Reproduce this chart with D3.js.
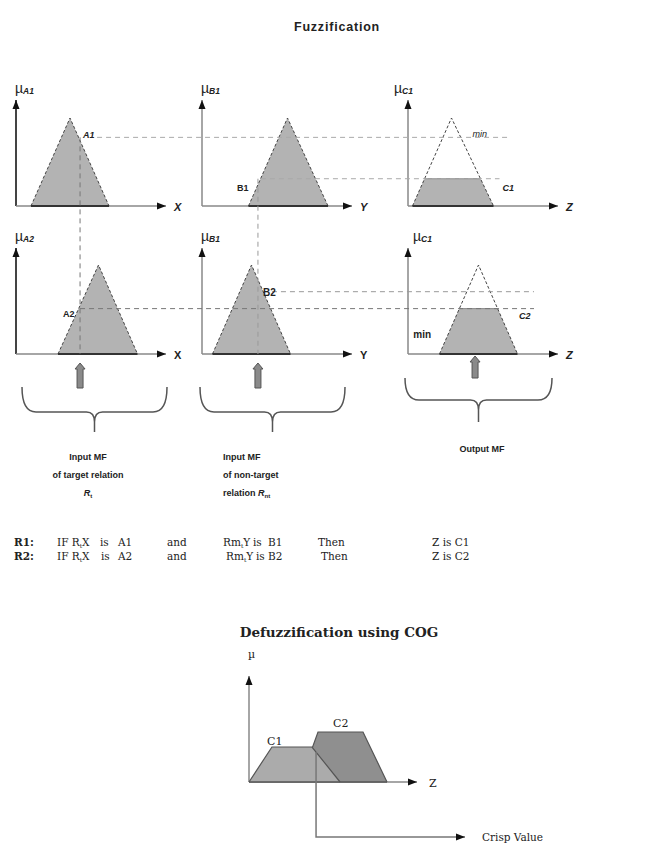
<!DOCTYPE html>
<html>
<head>
<meta charset="utf-8">
<script src="https://cdn.jsdelivr.net/npm/d3@7"></script>
<style>
  body { margin: 0; background: #fff; }
  text { font-family: "Liberation Sans", Arial, sans-serif; }
  .serif { font-family: "DejaVu Serif", "Liberation Serif", serif; }
</style>
</head>
<body>
<script>
// membership functions, triangle [a, peak, c] in axis units (0..10)
var mfA1 = [1.0, 3.6, 6.2];
var mfB1 = [3.1, 5.7, 8.4];
var mfC1 = [0.3, 2.9, 5.7];
var mfA2 = [2.8, 5.5, 8.1];
var mfB2 = [0.7, 3.3, 5.9];
var mfC2 = [2.1, 4.7, 7.3];

var muNames = [['A1', 'B1', 'C1'], ['A2', 'B1', 'C1']];
var axisNames = ['X', 'Y', 'Z'];

var crispX = 4.27;          // input on X
var crispY = 3.73;          // input on Y
var fireA = [0.78, 0.51];   // degree of A1, A2 at crispX
var fireB = [0.31, 0.70];   // degree of B1, B2 at crispY
var clipC = [0.31, 0.51];   // min() of each rule
var crispZ = 4.47;          // COG result

var cogC1 = [[0, 0], [1.53, 0.35], [4.2, 0.35], [6.07, 0]];
var cogC2 = [[3.4, 0], [4.6, 0.5], [7.6, 0.5], [9.2, 0]];

var rules = [
  ['R1', 'A1', 'B1', 'C1'],
  ['R2', 'A2', 'B2', 'C2']
];

var W = 665, H = 861;
var svg = d3.select('body').append('svg').attr('width', W).attr('height', H);

var defs = svg.append('defs');
defs.append('marker').attr('id', 'arr')
  .attr('markerUnits', 'userSpaceOnUse')
  .attr('markerWidth', 10).attr('markerHeight', 8)
  .attr('refX', 9).attr('refY', 4).attr('orient', 'auto')
  .append('path').attr('d', 'M0,0.5 L9,4 L0,7.5 Z').attr('fill', '#111');

// layout of the six small plots
var rows = [{base: 206, one: 118, top: 100}, {base: 354, one: 265, top: 248}];
var cols = [16, 202, 408];
var unit = 15;

function scalesFor(r, c) {
  var x = d3.scaleLinear().domain([0, 10]).range([cols[c], cols[c] + 10 * unit]);
  var y = d3.scaleLinear().domain([0, 1]).range([rows[r].base, rows[r].one]);
  return {x: x, y: y};
}

var line = function(s) {
  return d3.line().x(function(d) { return s.x(d[0]); }).y(function(d) { return s.y(d[1]); });
};

function tri(mf) { return [[mf[0], 0], [mf[1], 1], [mf[2], 0]]; }
function clipped(mf, h) {
  return [[mf[0], 0], [mf[0] + h * (mf[1] - mf[0]), h], [mf[2] - h * (mf[2] - mf[1]), h], [mf[2], 0]];
}

var mfs = [[mfA1, mfB1, mfC1], [mfA2, mfB2, mfC2]];
var S = [[], []];

rows.forEach(function(row, r) {
  cols.forEach(function(cx, c) {
    var s = scalesFor(r, c);
    S[r][c] = s;
    var g = svg.append('g');
    var axCol = c === 0 ? '#444' : '#888';
    var axW = c === 0 ? 2 : 1.5;
    // axes
    g.append('line').attr('x1', s.x(0)).attr('y1', row.base).attr('x2', s.x(0)).attr('y2', row.top)
      .attr('stroke', axCol).attr('stroke-width', axW).attr('marker-end', 'url(#arr)');
    g.append('line').attr('x1', s.x(0)).attr('y1', row.base).attr('x2', s.x(10)).attr('y2', row.base)
      .attr('stroke', '#888').attr('stroke-width', 1.5).attr('marker-end', 'url(#arr)');
    g.append('text').attr('x', s.x(10) + 8).attr('y', row.base + 5)
      .attr('font-size', 11).attr('font-style', (r === 0 || c === 2) ? 'italic' : 'normal')
      .attr('font-weight', 'bold').attr('fill', '#222').text(axisNames[c]);
    // mu label
    var mx = c === 2 ? (r === 0 ? s.x(0) - 14 : s.x(0) + 5) : s.x(0) - 1;
    var mt = g.append('text').attr('x', mx).attr('y', row.top - 7).attr('fill', '#222');
    mt.append('tspan').attr('font-size', 14).text('\u00b5');
    mt.append('tspan').attr('font-size', 8.5).attr('font-weight', 'bold').attr('font-style', 'italic')
      .attr('dy', 1).text(muNames[r][c]);

    var mf = mfs[r][c];
    if (c < 2) {
      g.append('path').attr('d', line(s)(tri(mf)))
        .attr('fill', '#b3b3b3').attr('stroke', '#444').attr('stroke-width', 1).attr('stroke-dasharray', '3,2');
    } else {
      g.append('path').attr('d', line(s)(clipped(mf, clipC[r])))
        .attr('fill', '#b3b3b3').attr('stroke', 'none');
      g.append('path').attr('d', line(s)(tri(mf)))
        .attr('fill', 'none').attr('stroke', '#444').attr('stroke-width', 1).attr('stroke-dasharray', '3,2');
      g.append('line').attr('x1', s.x(clipped(mf, clipC[r])[1][0])).attr('x2', s.x(clipped(mf, clipC[r])[2][0]))
        .attr('y1', s.y(clipC[r])).attr('y2', s.y(clipC[r])).attr('stroke', '#888').attr('stroke-width', 1);
    }
    g.append('line').attr('x1', s.x(mf[0])).attr('x2', s.x(mf[2]))
      .attr('y1', row.base).attr('y2', row.base).attr('stroke', '#333').attr('stroke-width', 2);
  });
});

// guide lines
var guides = svg.append('g').attr('fill', 'none');
function dashed(x1, y1, x2, y2, col) {
  guides.append('line').attr('x1', x1).attr('y1', y1).attr('x2', x2).attr('y2', y2)
    .attr('stroke', col).attr('stroke-width', 1).attr('stroke-dasharray', '5,4');
}
var xA = S[0][0].x(crispX), xB = S[0][1].x(crispY);
dashed(xA, S[0][0].y(fireA[0]), xA, rows[1].base, '#777');
dashed(xB, S[0][1].y(fireB[0]), xB, rows[1].base, '#999');
dashed(xA + 17, S[0][0].y(fireA[0]), S[0][2].x(6.8), S[0][0].y(fireA[0]), '#aaa');
dashed(xB + 3, S[0][1].y(fireB[0]), S[0][2].x(6.1), S[0][1].y(fireB[0]), '#aaa');
dashed(xA, S[1][0].y(fireA[1]), S[1][2].x(8.4), S[1][0].y(fireA[1]), '#777');
dashed(xB + 14, S[1][1].y(fireB[1]), S[1][2].x(8.4), S[1][1].y(fireB[1]), '#999');

// point labels
var lab = svg.append('g').attr('font-size', 9).attr('font-weight', 'bold').attr('fill', '#222');
lab.append('text').attr('x', xA + 3).attr('y', S[0][0].y(fireA[0]) + 1).attr('font-style', 'italic').text('A1');
lab.append('text').attr('x', xB - 21).attr('y', S[0][1].y(fireB[0]) + 12).text('B1');
lab.append('text').attr('x', S[0][2].x(4.3)).attr('y', S[0][0].y(fireA[0])).attr('font-style', 'italic').attr('font-weight', 'normal').text('min');
lab.append('text').attr('x', S[0][2].x(6.3)).attr('y', S[0][1].y(fireB[0]) + 12).attr('font-style', 'italic').text('C1');
lab.append('text').attr('x', xA - 17).attr('y', S[1][0].y(fireA[1]) + 8).text('A2');
lab.append('text').attr('x', xB + 5).attr('y', S[1][1].y(fireB[1]) + 4).attr('font-size', 10).text('B2');
lab.append('text').attr('x', S[1][2].x(7.4)).attr('y', S[1][0].y(fireA[1]) + 10).attr('font-style', 'italic').text('C2');
lab.append('text').attr('x', S[1][2].x(0.35)).attr('y', S[1][2].y(0.18)).attr('font-size', 10).text('min');

// block arrows under the inputs
function blockArrow(x, y0, y1) {
  var p = 'M' + (x - 3) + ',' + y1 + ' L' + (x - 3) + ',' + (y0 + 6) + ' L' + (x - 5) + ',' + (y0 + 6) +
    ' L' + x + ',' + y0 + ' L' + (x + 5) + ',' + (y0 + 6) + ' L' + (x + 3) + ',' + (y0 + 6) +
    ' L' + (x + 3) + ',' + y1 + ' Z';
  svg.append('path').attr('d', p).attr('fill', '#8a8a8a').attr('stroke', '#555').attr('stroke-width', 1);
}
blockArrow(xA, 363, 388);
blockArrow(xB, 363, 388);
blockArrow(S[1][2].x(crispZ), 356, 378);

// braces
function brace(x0, x1, top, mid, tip) {
  var cx = (x0 + x1) / 2;
  var p = 'M' + x0 + ',' + top + ' Q' + x0 + ',' + mid + ' ' + (x0 + 14) + ',' + mid +
    ' L' + (cx - 8) + ',' + mid + ' Q' + cx + ',' + mid + ' ' + cx + ',' + (mid + 10) +
    ' Q' + cx + ',' + mid + ' ' + (cx + 8) + ',' + mid +
    ' L' + (x1 - 14) + ',' + mid + ' Q' + x1 + ',' + mid + ' ' + x1 + ',' + top +
    ' M' + cx + ',' + (mid + 8) + ' L' + cx + ',' + tip;
  svg.append('path').attr('d', p).attr('fill', 'none').attr('stroke', '#555').attr('stroke-width', 1.5);
}
brace(22, 167, 387, 412, 432);
brace(200, 345, 387, 412, 432);
brace(405, 552, 378, 400, 422);

// captions
svg.append('text').attr('x', 337).attr('y', 31).attr('text-anchor', 'middle')
  .attr('font-size', 12.5).attr('font-weight', 'bold').attr('letter-spacing', 0.8).attr('fill', '#222').text('Fuzzification');

var cap = svg.append('g').attr('font-size', 9).attr('font-weight', 'bold').attr('fill', '#222');
cap.append('text').attr('x', 88).attr('y', 460).attr('text-anchor', 'middle').text('Input MF');
cap.append('text').attr('x', 88).attr('y', 478).attr('text-anchor', 'middle').text('of target relation');
var rt = cap.append('text').attr('x', 88).attr('y', 496).attr('text-anchor', 'middle');
rt.append('tspan').attr('font-style', 'italic').text('R');
rt.append('tspan').attr('font-size', 6).attr('dy', 2).text('t');
cap.append('text').attr('x', 223).attr('y', 460).text('Input MF');
cap.append('text').attr('x', 223).attr('y', 478).text('of non-target');
var rn = cap.append('text').attr('x', 223).attr('y', 496);
rn.append('tspan').text('relation ');
rn.append('tspan').attr('font-style', 'italic').text('R');
rn.append('tspan').attr('font-size', 6).attr('dy', 2).text('nt');
cap.append('text').attr('x', 482).attr('y', 452).attr('text-anchor', 'middle').text('Output MF');

// rules
var rg = svg.append('g').attr('class', 'serif').attr('font-size', 10.5).attr('fill', '#222');
rules.forEach(function(rule, i) {
  var y = 546 + i * 14;
  var dx = i * 3;
  rg.append('text').attr('class', 'serif').attr('x', 14).attr('y', y).attr('font-weight', 'bold').text(rule[0] + ':');
  var t1 = rg.append('text').attr('class', 'serif').attr('x', 57).attr('y', y);
  t1.append('tspan').text('IF R');
  t1.append('tspan').attr('font-size', 6).attr('dy', 2).text('t');
  t1.append('tspan').attr('dy', -2).text('X');
  rg.append('text').attr('class', 'serif').attr('x', 100 + i * 1).attr('y', y).text('is');
  rg.append('text').attr('class', 'serif').attr('x', 118).attr('y', y).text(rule[1]);
  rg.append('text').attr('class', 'serif').attr('x', 167).attr('y', y).text('and');
  var t2 = rg.append('text').attr('class', 'serif').attr('x', 223 + dx).attr('y', y);
  t2.append('tspan').text('Rm');
  t2.append('tspan').attr('font-size', 6).attr('dy', 2).text('t');
  t2.append('tspan').attr('dy', -2).text('Y');
  rg.append('text').attr('class', 'serif').attr('x', 253 + dx).attr('y', y).text('is');
  rg.append('text').attr('class', 'serif').attr('x', 268).attr('y', y).text(rule[2]);
  rg.append('text').attr('class', 'serif').attr('x', 318 + dx).attr('y', y).text('Then');
  rg.append('text').attr('class', 'serif').attr('x', 432).attr('y', y).text('Z is ' + rule[3]);
});

// defuzzification
var dx0 = 249, dBase = 782;
var dX = d3.scaleLinear().domain([0, 10]).range([dx0, dx0 + 10 * unit]);
var dY = d3.scaleLinear().domain([0, 1]).range([dBase, dBase - 100]);
var dLine = d3.line().x(function(d) { return dX(d[0]); }).y(function(d) { return dY(d[1]); });

svg.append('text').attr('class', 'serif').attr('x', 339).attr('y', 637).attr('text-anchor', 'middle')
  .attr('font-size', 13.5).attr('font-weight', 'bold').attr('fill', '#222').text('Defuzzification using COG');
svg.append('text').attr('class', 'serif').attr('x', dx0 - 1).attr('y', 658).attr('font-size', 11).attr('fill', '#222').text('\u00b5');
svg.append('line').attr('x1', dx0).attr('y1', dBase).attr('x2', dx0).attr('y2', 676)
  .attr('stroke', '#888').attr('stroke-width', 1.5).attr('marker-end', 'url(#arr)');
svg.append('line').attr('x1', dx0).attr('y1', dBase).attr('x2', dX(11.2)).attr('y2', dBase)
  .attr('stroke', '#888').attr('stroke-width', 1.5).attr('marker-end', 'url(#arr)');
svg.append('text').attr('class', 'serif').attr('x', dX(11.2) + 12).attr('y', dBase + 5).attr('font-size', 11).attr('fill', '#222').text('Z');

svg.append('path').attr('d', dLine(cogC2)).attr('fill', '#8f8f8f').attr('stroke', '#555').attr('stroke-width', 1.2);
svg.append('path').attr('d', dLine(cogC1)).attr('fill', '#ababab').attr('stroke', '#555').attr('stroke-width', 1.2);
svg.append('line').attr('x1', dx0).attr('x2', dX(9.2)).attr('y1', dBase).attr('y2', dBase).attr('stroke', '#555').attr('stroke-width', 1.5);
svg.append('text').attr('class', 'serif').attr('x', dX(1.2)).attr('y', dY(0.35) - 2).attr('font-size', 11).attr('fill', '#222').text('C1');
svg.append('text').attr('class', 'serif').attr('x', dX(5.6)).attr('y', dY(0.5) - 5).attr('font-size', 11).attr('fill', '#222').text('C2');

var cz = dX(crispZ);
svg.append('path').attr('d', 'M' + cz + ',' + dY(0.3) + ' L' + cz + ',837 L' + 465 + ',837')
  .attr('fill', 'none').attr('stroke', '#777').attr('stroke-width', 1.5).attr('marker-end', 'url(#arr)');
svg.append('text').attr('class', 'serif').attr('x', 482).attr('y', 841).attr('font-size', 10.5).attr('fill', '#222').text('Crisp Value');
</script>
</body>
</html>
